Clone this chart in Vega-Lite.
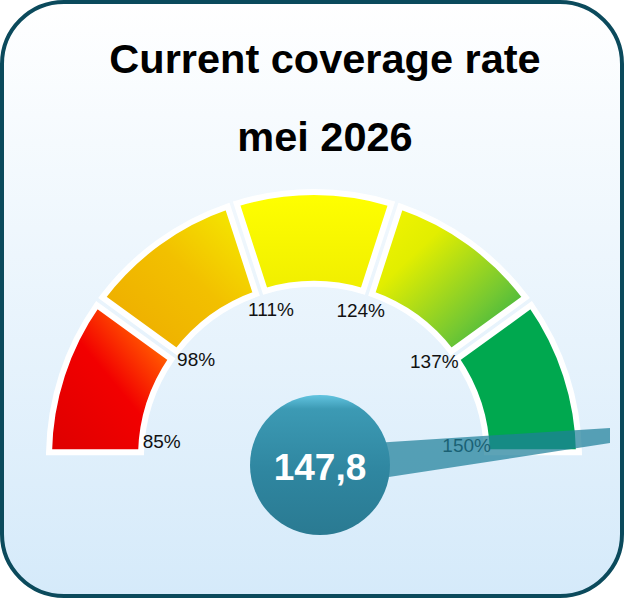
{
  "$schema": "https://vega.github.io/schema/vega-lite/v6.json",
  "width": 620,
  "height": 594,
  "autosize": {"type": "none"},
  "padding": 2,
  "background": "white",
  "config": {
    "locale": {"number": {"decimal": ",", "thousands": ".", "grouping": [3], "currency": ["", " €"]}},
    "view": {
      "fill": {"gradient": "linear", "x1": 0, "y1": 0, "x2": 0, "y2": 1, "stops": [{"offset": 0, "color": "#FFFFFF"}, {"offset": 1, "color": "#D5EAFA"}]},
      "stroke": "#0B4A5C",
      "strokeWidth": 4,
      "cornerRadius": 62
    }
  },
  "title": {
    "text": ["Current coverage rate", "mei 2026"],
    "anchor": "middle",
    "font": "Liberation Sans",
    "fontSize": 41.5,
    "fontWeight": "bold",
    "color": "#000000",
    "lineHeight": 78,
    "baseline": "top",
    "offset": -157,
    "dx": 13
  },
  "datasets": {
    "segments": [
      {"from": 85, "to": 98},
      {"from": 98, "to": 111},
      {"from": 111, "to": 124},
      {"from": 124, "to": 137},
      {"from": 137, "to": 150}
    ],
    "ticks": [
      {"tick": 85, "label": "85%"},
      {"tick": 98, "label": "98%"},
      {"tick": 111, "label": "111%"},
      {"tick": 124, "label": "124%"},
      {"tick": 137, "label": "137%"},
      {"tick": 150, "label": "150%"}
    ],
    "needle": [
      {"nx": 0.02264, "top": 0.04, "bottom": -0.11547},
      {"nx": 1.11698, "top": 0.10943, "bottom": 0.05283}
    ],
    "reading": [{"value": 147.8}]
  },
  "resolve": {"scale": {"theta": "independent"}},
  "layer": [
    {
      "data": {"name": "segments"},
      "transform": [{"filter": "datum.from == 85"}],
      "mark": {"type": "arc", "radius": 265, "radius2": 173, "padAngle": 0.03, "stroke": "white", "strokeWidth": 6,
        "fill": {"gradient": "linear", "x1": 0, "y1": 1, "x2": 1, "y2": 0, "stops": [{"offset": 0, "color": "#DD0000"}, {"offset": 0.5, "color": "#F20000"}, {"offset": 0.75, "color": "#FF4A00"}, {"offset": 1, "color": "#FFAA00"}]}},
      "encoding": {
        "x": {"datum": 0, "type": "quantitative", "scale": {"domain": [-1.177358, 1.162264], "nice": false, "zero": false}, "axis": null},
        "y": {"datum": 0, "type": "quantitative", "scale": {"domain": [-0.524528, 1.716981], "nice": false, "zero": false}, "axis": null},
        "theta": {"field": "from", "type": "quantitative", "stack": null, "scale": {"domain": [85, 150], "range": [-1.5708, 1.5708]}},
        "theta2": {"field": "to"}
      }
    },
    {
      "data": {"name": "segments"},
      "transform": [{"filter": "datum.from == 98"}],
      "mark": {"type": "arc", "radius": 265, "radius2": 173, "padAngle": 0.03, "stroke": "white", "strokeWidth": 6,
        "fill": {"gradient": "linear", "x1": 0, "y1": 1, "x2": 1, "y2": 0, "stops": [{"offset": 0, "color": "#EDA800"}, {"offset": 0.55, "color": "#F2C000"}, {"offset": 1, "color": "#F5F000"}]}},
      "encoding": {
        "x": {"datum": 0, "type": "quantitative"},
        "y": {"datum": 0, "type": "quantitative"},
        "theta": {"field": "from", "type": "quantitative", "stack": null, "scale": {"domain": [85, 150], "range": [-1.5708, 1.5708]}},
        "theta2": {"field": "to"}
      }
    },
    {
      "data": {"name": "segments"},
      "transform": [{"filter": "datum.from == 111"}],
      "mark": {"type": "arc", "radius": 265, "radius2": 173, "padAngle": 0.03, "stroke": "white", "strokeWidth": 6,
        "fill": {"gradient": "linear", "x1": 0, "y1": 0, "x2": 0, "y2": 1, "stops": [{"offset": 0, "color": "#FFFF00"}, {"offset": 1, "color": "#F0EE00"}]}},
      "encoding": {
        "x": {"datum": 0, "type": "quantitative"},
        "y": {"datum": 0, "type": "quantitative"},
        "theta": {"field": "from", "type": "quantitative", "stack": null, "scale": {"domain": [85, 150], "range": [-1.5708, 1.5708]}},
        "theta2": {"field": "to"}
      }
    },
    {
      "data": {"name": "segments"},
      "transform": [{"filter": "datum.from == 124"}],
      "mark": {"type": "arc", "radius": 265, "radius2": 173, "padAngle": 0.03, "stroke": "white", "strokeWidth": 6,
        "fill": {"gradient": "linear", "x1": 0, "y1": 0, "x2": 1, "y2": 1, "stops": [{"offset": 0, "color": "#F5F500"}, {"offset": 0.3, "color": "#E2EE00"}, {"offset": 0.7, "color": "#74C832"}, {"offset": 1, "color": "#18A84A"}]}},
      "encoding": {
        "x": {"datum": 0, "type": "quantitative"},
        "y": {"datum": 0, "type": "quantitative"},
        "theta": {"field": "from", "type": "quantitative", "stack": null, "scale": {"domain": [85, 150], "range": [-1.5708, 1.5708]}},
        "theta2": {"field": "to"}
      }
    },
    {
      "data": {"name": "segments"},
      "transform": [{"filter": "datum.from == 137"}],
      "mark": {"type": "arc", "radius": 265, "radius2": 173, "padAngle": 0.03, "stroke": "white", "strokeWidth": 6, "fill": "#00A84F"},
      "encoding": {
        "x": {"datum": 0, "type": "quantitative"},
        "y": {"datum": 0, "type": "quantitative"},
        "theta": {"field": "from", "type": "quantitative", "stack": null, "scale": {"domain": [85, 150], "range": [-1.5708, 1.5708]}},
        "theta2": {"field": "to"}
      }
    },
    {
      "data": {"name": "ticks"},
      "mark": {"type": "text", "radius": 153, "font": "Liberation Sans", "fontSize": 19, "color": "#111111", "align": "center", "baseline": "middle"},
      "encoding": {
        "x": {"datum": 0, "type": "quantitative"},
        "y": {"datum": 0, "type": "quantitative"},
        "theta": {"field": "tick", "type": "quantitative", "scale": {"domain": [85, 150], "range": [-1.475, 1.5]}},
        "text": {"field": "label"}
      }
    },
    {
      "data": {"name": "needle"},
      "mark": {"type": "area", "color": "#1F7F9A", "opacity": 0.72},
      "encoding": {
        "x": {"field": "nx", "type": "quantitative"},
        "y": {"field": "top", "type": "quantitative"},
        "y2": {"field": "bottom"}
      }
    },
    {
      "data": {"name": "reading"},
      "mark": {"type": "point", "shape": "circle", "filled": true, "size": 19600, "opacity": 1, "strokeWidth": 0,
        "fill": {"gradient": "linear", "x1": 0, "y1": 0, "x2": 0, "y2": 1, "stops": [{"offset": 0, "color": "#62C4E0"}, {"offset": 0.1, "color": "#3C9AB4"}, {"offset": 0.55, "color": "#2F86A0"}, {"offset": 1, "color": "#2A7A92"}]}},
      "encoding": {
        "x": {"datum": 0.02264, "type": "quantitative"},
        "y": {"datum": -0.03019, "type": "quantitative"}
      }
    },
    {
      "data": {"name": "reading"},
      "mark": {"type": "text", "font": "Liberation Sans", "fontSize": 37, "fontWeight": "bold", "color": "white", "align": "center", "baseline": "middle", "dy": 4},
      "encoding": {
        "x": {"datum": 0.02264, "type": "quantitative"},
        "y": {"datum": -0.03019, "type": "quantitative"},
        "text": {"field": "value", "type": "quantitative", "format": ".1f"}
      }
    }
  ]
}
